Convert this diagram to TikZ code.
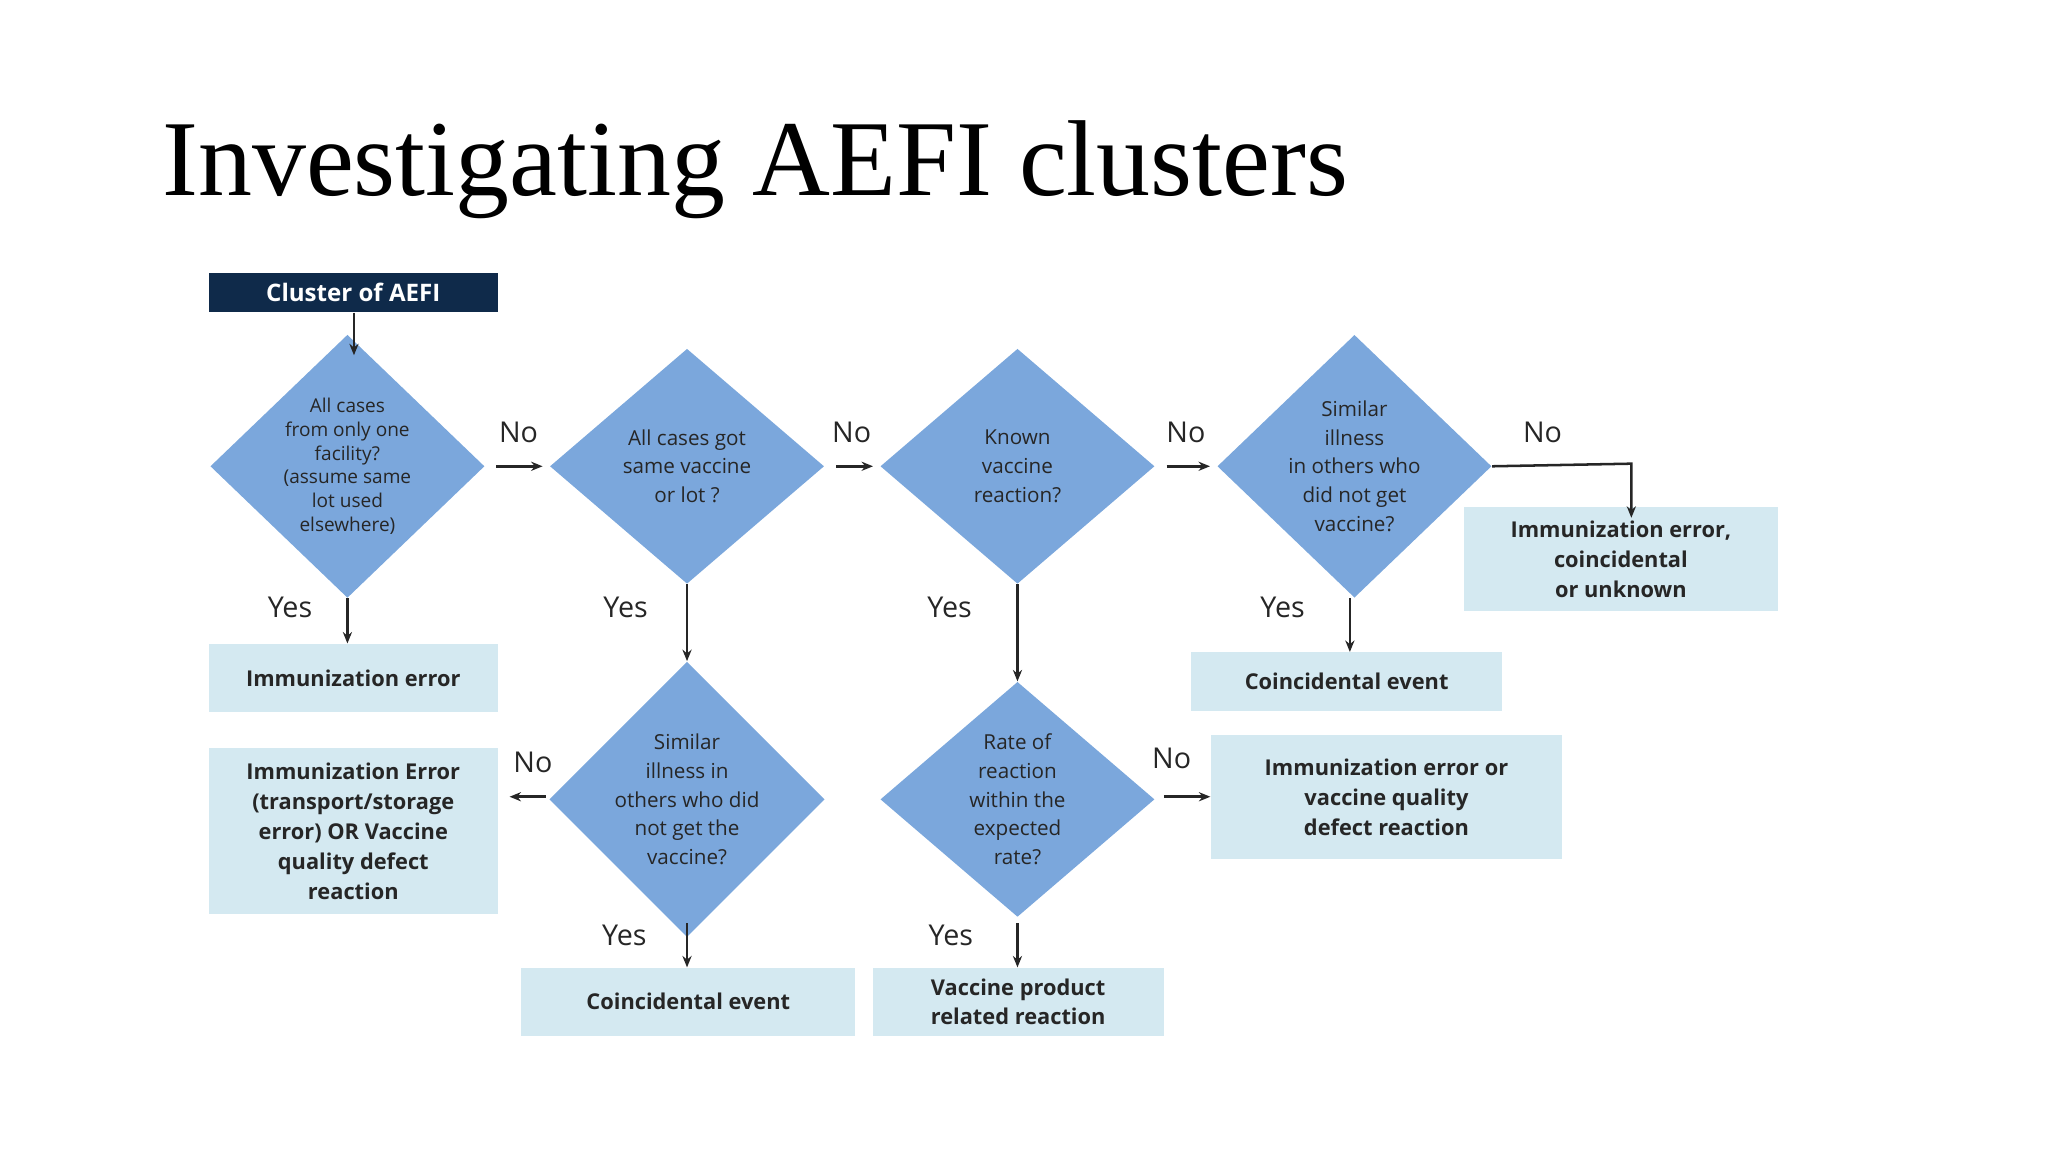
\documentclass[tikz,border=0pt]{standalone}
\usepackage{fontspec}
\setmainfont{Liberation Serif}
\newfontfamily\osans{Open Sans}
\usetikzlibrary{shapes.geometric,arrows.meta}
\definecolor{dia}{HTML}{7BA7DC}
\definecolor{lbox}{HTML}{D4E9F1}
\definecolor{navy}{HTML}{0F2A4A}
\begin{document}
\begin{tikzpicture}[x=0.02cm,y=-0.02cm,
 dm/.style={diamond,fill=dia,inner sep=0pt,minimum width=4.2cm,minimum height=3.6cm,align=center,font=\osans\fontsize{9}{12.5}\selectfont,text=black!85},
 bx/.style={fill=lbox,inner sep=0pt,align=center,font=\osans\bfseries\fontsize{9.5}{13}\selectfont,text=black!85},
 lb/.style={font=\osans\fontsize{12.5}{14}\selectfont,text=black!85},
 ar/.style={-{Stealth[length=5pt,width=4pt]},line width=1.1pt,black!85}]
\useasboundingbox (0,0) rectangle (1568,882);
\node[anchor=west,font=\fontsize{47}{50}\selectfont] (title) at (118,130) {Investigating AEFI clusters};
\node[fill=navy,text=white,font=\osans\bfseries\fontsize{10.5}{13}\selectfont,minimum width=4.42cm,minimum height=0.6cm,inner sep=0pt] (top) at (270.5,224) {Cluster of AEFI};
\node[dm,font=\osans\fontsize{8.3}{10.3}\selectfont] (d1) at (266,357) {All cases\\from only one\\facility?\\(assume same\\lot used\\elsewhere)};
\node[dm] (d2) at (526,357) {All cases got\\same vaccine\\or lot ?};
\node[dm] (d3) at (779,357) {Known\\vaccine\\reaction?};
\node[dm] (d4) at (1037,357) {Similar\\illness\\in others who\\did not get\\vaccine?};
\node[dm] (d5) at (526,612) {Similar\\illness in\\others who did\\not get the\\vaccine?};
\node[dm] (d6) at (779,612) {Rate of\\reaction\\within the\\expected\\rate?};
\node[bx,minimum width=4.42cm,minimum height=1.04cm] (b1) at (270.5,519) {Immunization error};
\node[bx,minimum width=4.42cm,minimum height=2.54cm] (b2) at (270.5,636.5) {Immunization Error\\(transport/storage\\error) OR Vaccine\\quality defect\\reaction};
\node[bx,minimum width=4.76cm,minimum height=0.9cm] (b3) at (1031,522) {Coincidental event};
\node[bx,minimum width=4.8cm,minimum height=1.6cm] (b4) at (1241,428) {Immunization error,\\coincidental\\or unknown};
\node[bx,minimum width=5.38cm,minimum height=1.9cm] (b5) at (1061.5,610.5) {Immunization error or\\vaccine quality\\defect reaction};
\node[bx,minimum width=5.12cm,minimum height=1.04cm] (b6) at (527,767) {Coincidental event};
\node[bx,minimum width=4.46cm,minimum height=1.04cm] (b7) at (779.5,767) {Vaccine product\\related reaction};
% arrows
\draw[ar] (top.south -| 271,0) -- (271,272);
\draw[ar,shorten <=5pt] (d1.east) -- ([xshift=-3]d2.west);
\draw[ar,shorten <=5pt] (d2.east) -- ([xshift=-3]d3.west);
\draw[ar,shorten <=5pt] (d3.east) -- ([xshift=-3]d4.west);
\draw[ar] (d4.east) -- (1249,355) -- ([yshift=-5]b4.north -| 1249,0);
\draw[ar] (d1.south) -- (b1.north -| d1.south);
\draw[ar] (d2.south) -- (d5.north);
\draw[ar] (d3.south) -- (d6.north);
\draw[ar] ([xshift=-2]d4.south) -- ([xshift=-2]d4.south |- b3.north);
\node[coordinate] (c5) at (418,610) {};
\draw[ar] (c5) -- ([xshift=5]b2.east |- c5);
\node[coordinate] (c6) at (891,610) {};
\draw[ar] (c6) -- (b5.west |- c6);
\node[coordinate] (c7) at (526,707) {};
\draw[ar] (c7) -- (b6.north -| c7);
\node[coordinate] (c8) at (779,707) {};
\draw[ar] (c8) -- (b7.north -| c8);
% labels
\node[lb] (n1) at (397,331) {No};
\node[lb] (n2) at (652,331) {No};
\node[lb] (n3) at (908,331) {No};
\node[lb] (n4) at (1181,331) {No};
\node[lb] (n5) at (408,584) {No};
\node[lb] (n6) at (897,581) {No};
\node[lb] (y1) at (222,465) {Yes};
\node[lb] (y2) at (479,465) {Yes};
\node[lb] (y3) at (727,465) {Yes};
\node[lb] (y4) at (982,465) {Yes};
\node[lb] (y5) at (478,716) {Yes};
\node[lb] (y6) at (728,716) {Yes};
\end{tikzpicture}
\end{document}
